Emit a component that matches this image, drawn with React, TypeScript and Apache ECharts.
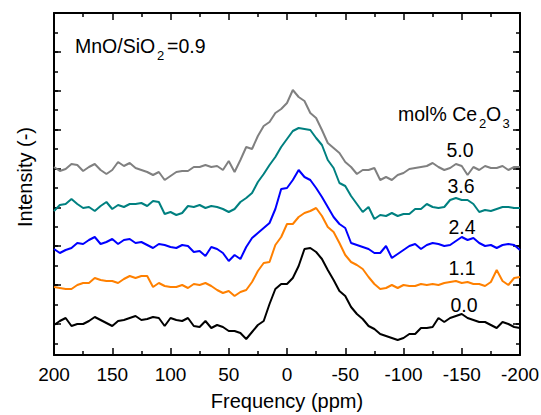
import React, { useEffect, useRef } from 'react';
import * as echarts from 'echarts';

const FONT = '"Liberation Sans", Arial, Helvetica, sans-serif';

// Chemical shift (ppm)
const ppm = [
  200, 195, 190, 185, 180, 175, 170, 165, 160, 155,
  150, 145, 140, 135, 130, 125, 120, 115, 110, 105,
  100, 95, 90, 85, 80, 75, 70, 65, 60, 55,
  50, 45, 40, 35, 30, 25, 20, 15, 10, 5,
  0, -5, -10, -15, -20, -25, -30, -35, -40, -45,
  -50, -55, -60, -65, -70, -75, -80, -85, -90, -95,
  -100, -105, -110, -115, -120, -125, -130, -135, -140, -145,
  -150, -155, -160, -165, -170, -175, -180, -185, -190, -195,
  -200,
];

// Offset intensities (a.u.)
const ce50 = [
  188, 184, 186, 191, 190, 184, 188, 191, 185, 181,
  185, 193, 189, 192, 187, 185, 183, 180, 183, 175,
  179, 183, 184, 184, 188, 188, 190, 188, 189, 185,
  194, 183, 195, 208, 206, 219, 229, 233, 242, 246,
  252, 265, 258, 254, 242, 237, 225, 212, 207, 202,
  193, 188, 181, 185, 185, 187, 175, 178, 175, 180,
  182, 186, 187, 188, 189, 192, 188, 185, 187, 191,
  189, 180, 188, 185, 189, 187, 187, 189, 185, 188,
  188,
];
const ce36 = [
  144, 150, 151, 156, 151, 147, 148, 144, 149, 153,
  146, 150, 148, 151, 151, 152, 149, 154, 153, 141,
  143, 140, 142, 149, 148, 150, 147, 149, 148, 146,
  143, 146, 153, 157, 162, 173, 181, 190, 198, 208,
  216, 224, 227, 226, 225, 217, 210, 195, 187, 172,
  169, 159, 151, 143, 148, 136, 140, 139, 142, 139,
  141, 141, 146, 146, 151, 148, 147, 148, 155, 157,
  155, 155, 151, 143, 145, 144, 146, 148, 148, 147,
  147,
];
const ce24 = [
  106, 102, 105, 107, 112, 111, 115, 118, 111, 113,
  116, 111, 115, 116, 112, 113, 110, 107, 111, 110,
  108, 107, 110, 109, 103, 104, 99, 108, 106, 102,
  94, 100, 96, 108, 117, 122, 127, 132, 146, 166,
  167, 175, 185, 178, 175, 167, 158, 148, 138, 131,
  127, 112, 110, 108, 106, 102, 102, 109, 97, 101,
  105, 109, 111, 106, 110, 112, 111, 109, 110, 114,
  118, 115, 117, 112, 109, 110, 107, 110, 111, 110,
  105,
];
const ce11 = [
  68, 67, 66, 66, 70, 72, 72, 77, 75, 74,
  74, 72, 76, 79, 77, 79, 79, 68, 72, 69,
  68, 68, 70, 67, 71, 70, 72, 69, 65, 62,
  64, 59, 63, 65, 73, 84, 92, 93, 110, 118,
  131, 131, 138, 142, 144, 147, 139, 128, 123, 112,
  100, 93, 90, 86, 78, 71, 66, 67, 70, 67,
  70, 69, 69, 71, 70, 71, 70, 72, 73, 74,
  72, 73, 71, 71, 69, 73, 85, 74, 70, 77,
  78,
];
const ce00 = [
  30, 34, 37, 29, 31, 31, 34, 38, 35, 32,
  29, 34, 35, 37, 39, 35, 36, 38, 37, 29,
  37, 35, 34, 37, 29, 28, 34, 27, 30, 28,
  24, 24, 22, 16, 23, 30, 34, 51, 66, 71,
  71, 77, 89, 106, 107, 103, 96, 85, 75, 64,
  59, 48, 41, 36, 29, 26, 21, 19, 17, 15,
  17, 21, 21, 27, 27, 28, 37, 33, 37, 39,
  41, 37, 35, 33, 33, 30, 27, 33, 31, 28,
  27,
];

const seriesLabels = ['5.0', '3.6', '2.4', '1.1', '0.0'];
const seriesValues = [ce50, ce36, ce24, ce11, ce00];
const seriesColors = ['#808080', '#008080', '#0000ff', '#ff8000', '#000000'];

const freqMin = -200;
const freqMax = 200;
const freqStep = 50;

export default function App() {
  const ref = useRef<HTMLDivElement>(null);

  useEffect(() => {
    if (!ref.current) return;
    const chart = echarts.init(ref.current, null, { renderer: 'svg' });

    const freqAxis = (position: string, showLabel: boolean, extra: any = {}) => ({
      type: 'value',
      min: freqMin,
      max: freqMax,
      interval: freqStep,
      inverse: true,
      position,
      axisLine: { show: true, onZero: false, lineStyle: { color: '#000', width: 2 } },
      axisTick: { show: true, inside: true, length: 7, lineStyle: { color: '#000', width: 1.5 } },
      minorTick: { show: true, splitNumber: 2, length: 4, lineStyle: { color: '#000', width: 1.5 } },
      axisLabel: { show: showLabel, color: '#000', fontSize: 19, fontFamily: FONT, margin: 10 },
      splitLine: { show: false },
      minorSplitLine: { show: false },
      ...extra,
    });

    const tickAxis = (position: string, interval: number, len: number, showLine: boolean) => ({
      type: 'value',
      min: 0,
      max: 17.6,
      interval,
      inverse: true,
      position,
      axisLine: { show: showLine, onZero: false, lineStyle: { color: '#000', width: 2 } },
      axisTick: { show: true, inside: true, length: len, lineStyle: { color: '#000', width: 1.5 } },
      axisLabel: { show: false },
      splitLine: { show: false },
    });

    const textEl = (text: string, x: number, y: number, size: number, align = 'left') => ({
      type: 'text',
      x,
      y,
      silent: true,
      style: {
        text,
        fill: '#000',
        fontSize: size,
        fontFamily: FONT,
        align,
        verticalAlign: 'middle',
      },
    });

    chart.setOption({
      animation: false,
      backgroundColor: '#ffffff',
      grid: { left: 54, right: 21, top: 13, bottom: 60, containLabel: false, outerBoundsMode: 'none' },
      xAxis: [
        freqAxis('bottom', true, {
          name: 'Frequency (ppm)',
          nameLocation: 'middle',
          nameGap: 36,
          nameTextStyle: { color: '#000', fontSize: 20, fontFamily: FONT },
        }),
        freqAxis('top', false),
      ],
      yAxis: [
        { type: 'value', min: 0, max: 342, show: false },
        tickAxis('left', 1, 4, true),
        tickAxis('left', 2, 7, false),
        tickAxis('right', 1, 4, true),
        tickAxis('right', 2, 7, false),
      ],
      series: seriesValues.map((vals, i) => ({
        type: 'line',
        name: seriesLabels[i],
        xAxisIndex: 0,
        yAxisIndex: 0,
        data: ppm.map((p, j) => [p, vals[j]]),
        showSymbol: false,
        symbol: 'none',
        silent: true,
        lineStyle: { color: seriesColors[i], width: 2 },
        itemStyle: { color: seriesColors[i] },
        z: 3,
      })),
      graphic: [
        {
          type: 'text',
          x: 25,
          y: 177,
          rotation: Math.PI / 2,
          silent: true,
          style: {
            text: 'Intensity (-)',
            fill: '#000',
            fontSize: 20,
            fontFamily: FONT,
            align: 'center',
            verticalAlign: 'middle',
          },
        },
        textEl('MnO/SiO', 75, 46, 19.5),
        textEl('2', 157, 55, 13),
        textEl('=0.9', 167, 46, 19.5),
        textEl('mol% Ce', 398, 114, 19.5),
        textEl('2', 479, 123, 13),
        textEl('O', 486, 114, 19.5),
        textEl('3', 502.5, 123, 13),
        textEl(seriesLabels[0], 460, 150, 19.5, 'center'),
        textEl(seriesLabels[1], 461, 186, 19.5, 'center'),
        textEl(seriesLabels[2], 462, 227, 19.5, 'center'),
        textEl(seriesLabels[3], 462, 268, 19.5, 'center'),
        textEl(seriesLabels[4], 464, 305, 19.5, 'center'),
      ],
    });

    return () => {
      chart.dispose();
    };
  }, []);

  return (
    <div
      ref={ref}
      style={{ position: 'fixed', left: 0, top: 0, width: 541, height: 415, background: '#fff' }}
    />
  );
}
